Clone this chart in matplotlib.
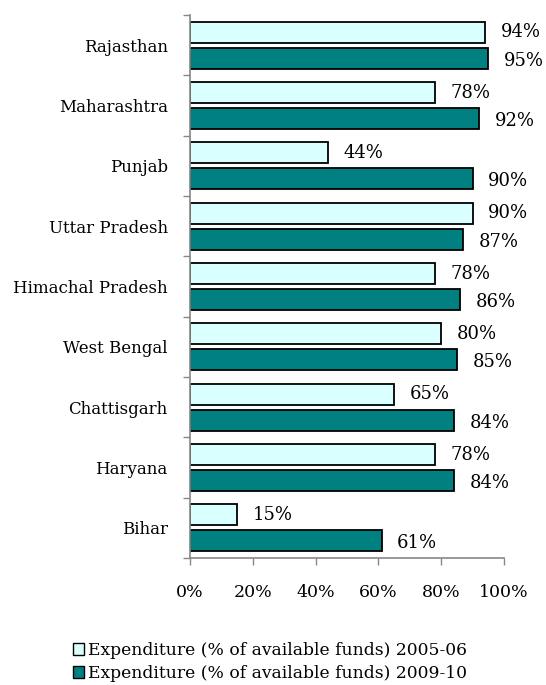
import matplotlib
matplotlib.use("Agg")
import matplotlib.pyplot as plt
import numpy as np
from matplotlib.patches import Patch

states = ["Rajasthan", "Maharashtra", "Punjab", "Uttar Pradesh", "Himachal Pradesh",
          "West Bengal", "Chattisgarh", "Haryana", "Bihar"]
exp_2005 = [94, 78, 44, 90, 78, 80, 65, 78, 15]
exp_2009 = [95, 92, 90, 87, 86, 85, 84, 84, 61]
series_names = ["Expenditure (% of available funds) 2005-06",
                "Expenditure (% of available funds) 2009-10"]
xticks = [0, 20, 40, 60, 80, 100]

plt.rcParams['font.family'] = ['DejaVu Serif']
fig = plt.figure(figsize=(5.46, 6.85), dpi=100)
ax = fig.add_axes([190/546, 1-558/685, (504-190)/546, (558-15)/685])

n = len(states)
y = np.arange(n)
h = 0.35
off = 0.215
c1, c2 = "#d9ffff", "#008080"
ax.barh(y - off, exp_2005, height=h, color=c1, edgecolor="black", linewidth=1.3)
ax.barh(y + off, exp_2009, height=h, color=c2, edgecolor="black", linewidth=1.3)
for i in range(n):
    ax.text(exp_2005[i] + 5, y[i] - off, f"{exp_2005[i]}%", va="center", ha="left", fontsize=13)
    ax.text(exp_2009[i] + 5, y[i] + off + 0.04, f"{exp_2009[i]}%", va="center", ha="left", fontsize=13)

ax.set_ylim(n - 0.5, -0.5)
ax.set_xlim(0, 100)
ax.set_xticks(xticks)
ax.set_xticklabels([f"{t}%" for t in xticks], fontsize=12.5)
ax.set_yticks(y)
ax.set_yticklabels(states, fontsize=12)
ax.set_yticks(np.arange(-0.5, n, 1), minor=True)
ax.tick_params(axis='y', which='major', length=0, pad=16)
ax.tick_params(axis='y', which='minor', length=5, color="#888888", width=1)
ax.tick_params(axis='x', length=5, color="#888888", width=1, pad=14)
for s in ["top", "right"]:
    ax.spines[s].set_visible(False)
ax.spines["left"].set_color("#888888")
ax.spines["bottom"].set_color("#888888")
ax.spines["left"].set_linewidth(1.2)
ax.spines["bottom"].set_linewidth(1.2)

handles = [Patch(facecolor=c1, edgecolor="black", label=series_names[0]),
           Patch(facecolor=c2, edgecolor="black", label=series_names[1])]
fig.legend(handles=handles, loc="center", bbox_to_anchor=(270/546, 1-662/685),
           frameon=False, fontsize=12.3, handlelength=0.65, handleheight=0.65,
           handletextpad=0.2, labelspacing=0.35)

fig.savefig("out.png", dpi=100)
